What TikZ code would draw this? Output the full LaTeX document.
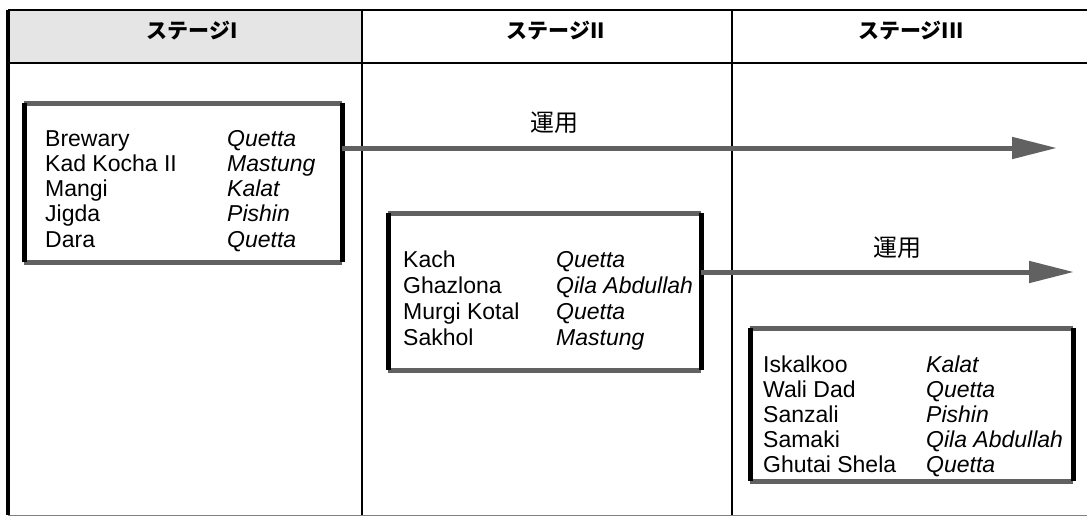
\documentclass[tikz,border=0pt]{standalone}
\usepackage{fontspec}
\setmainfont{Liberation Sans}
\newfontfamily\jp{Noto Sans CJK JP}
\usetikzlibrary{arrows.meta}
\definecolor{dith}{gray}{0.38}
\begin{document}
\begin{tikzpicture}[x=1pt,y=-1pt,
  gridline/.style={line width=2.5pt,black},
  boxedge/.style={line width=5pt,dith},
  boxside/.style={line width=5pt,black},
  frame/.style={rectangle,inner sep=0pt,anchor=north west},
  entry/.style={anchor=base west,inner sep=0pt,font=\fontsize{23}{25}\selectfont},
  placename/.style={anchor=base west,inner sep=0pt,font=\fontsize{23}{25}\selectfont\itshape},
  flow/.style={line width=5pt,dith,-{Triangle[length=45pt,width=21pt]}},
  stagehead/.style={inner sep=0pt,font=\jp\bfseries\fontsize{21}{24}\selectfont},
  oplabel/.style={inner sep=0pt,font=\jp\fontsize{24}{26}\selectfont}]
\useasboundingbox (0,0) rectangle (1087,519);
% header background
\fill[gray!20] (8,10) rectangle (362,63);
% table lines
\draw[gridline] (8,10) -- (1087,10);
\draw[line width=1.5pt] (8,63) -- (1087,63);
\draw[line width=3.5pt] (8,10) -- (8,515);
\draw[gridline] (362,10) -- (362,515);
\draw[gridline] (732,10) -- (732,515);
\draw[line width=1pt,gray] (8,515) -- (1087,515);
% headers
\node[stagehead] (h1) at (192,31) {ステージI};
\node[stagehead] (h2) at (556,31) {ステージII};
\node[stagehead] (h3) at (911,31) {ステージIII};
% boxes
\node[frame,minimum width=318pt,minimum height=159pt] (b1) at (24,103) {};
\node[frame,minimum width=313pt,minimum height=157pt] (b2) at (388,213) {};
\node[frame,minimum width=323pt,minimum height=153pt] (b3) at (750,328) {};
\foreach \b in {b1,b2,b3}{
  \draw[boxedge] (\b.north west) -- (\b.north east);
  \draw[boxedge] (\b.south west) -- (\b.south east);
  \draw[boxside] (\b.north west) -- (\b.south west);
  \draw[boxside] (\b.north east) -- (\b.south east);
}
% box 1 entries
\foreach \n/\p [count=\i] in {Brewary/Quetta,Kad Kocha II/Mastung,Mangi/Kalat,Jigda/Pishin,Dara/Quetta}{
  \node[entry] (a\i) at (45,{146+25.25*(\i-1)}) {\n};
  \node[placename] (ap\i) at (227,{146+25.25*(\i-1)}) {\p};
}
% box 2 entries
\foreach \n/\p [count=\i] in {Kach/Quetta,Ghazlona/Qila Abdullah,Murgi Kotal/Quetta,Sakhol/Mastung}{
  \node[entry] (c\i) at (403,{267+26.3*(\i-1)}) {\n};
  \node[placename] (cp\i) at (556,{267+26.3*(\i-1)}) {\p};
}
% box 3 entries
\foreach \n/\p [count=\i] in {Iskalkoo/Kalat,Wali Dad/Quetta,Sanzali/Pishin,Samaki/Qila Abdullah,Ghutai Shela/Quetta}{
  \node[entry] (d\i) at (763,{372+25.2*(\i-1)}) {\n};
  \node[placename] (dp\i) at (926,{372+25.2*(\i-1)}) {\p};
}
% arrows
\coordinate (e1) at (1057,148);
\coordinate (e2) at (1074,272);
\draw[flow] (b1.east |- e1) -- (e1);
\draw[flow] (b2.east |- e2) -- (e2);
\node[oplabel] (l1) at (554,123) {運用};
\node[oplabel] (l2) at (897,248) {運用};
\end{tikzpicture}
\end{document}
